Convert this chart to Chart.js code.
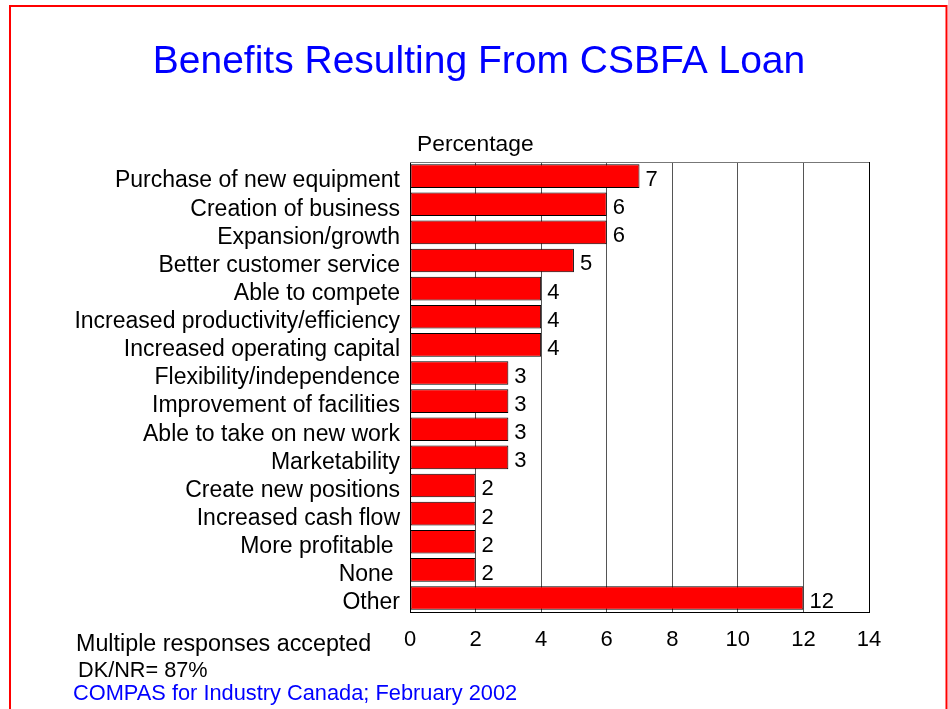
<!DOCTYPE html>
<html>
<head>
<meta charset="utf-8">
<script src="https://cdn.jsdelivr.net/npm/chart.js@4"></script>
<style>
  html, body { margin:0; padding:0; background:#fff; }
  canvas { display:block; }
</style>
</head>
<body>
<canvas id="benefits" width="948" height="709"></canvas>
<script>
/* ── Data ─────────────────────────────────────────────────────────── */
const categories = [
  'Purchase of new equipment', 'Creation of business', 'Expansion/growth',
  'Better customer service', 'Able to compete', 'Increased productivity/efficiency',
  'Increased operating capital', 'Flexibility/independence', 'Improvement of facilities',
  'Able to take on new work', 'Marketability', 'Create new positions',
  'Increased cash flow', 'More profitable ', 'None ', 'Other'
];
const percents  = [7, 6, 6, 5, 4, 4, 4, 3, 3, 3, 3, 2, 2, 2, 2, 12];
const xTicks    = [0, 2, 4, 6, 8, 10, 12, 14];

const titleText = 'Benefits Resulting From CSBFA Loan';
const axisTitle = 'Percentage';
const notes     = ['Multiple responses accepted', 'DK/NR= 87%'];
const source    = 'COMPAS for Industry Canada; February 2002';

const FONT = 'Arial, "Liberation Sans", Helvetica, sans-serif';

/* ── Page decorations: background, frame, title, notes, bar values ── */
const decor = {
  id: 'decor',
  beforeDraw(chart) {
    const { ctx, width, height } = chart;
    ctx.save();
    ctx.fillStyle = '#fff';
    ctx.fillRect(0, 0, width, height);
    ctx.restore();
  },
  afterDatasetsDraw(chart) {
    const { ctx, chartArea: a } = chart;
    ctx.save();
    // top edge of plot box
    ctx.strokeStyle = '#777';
    ctx.lineWidth = 1;
    ctx.beginPath();
    ctx.moveTo(a.left, a.top + 0.5);
    ctx.lineTo(a.right, a.top + 0.5);
    ctx.stroke();

    // value labels next to each bar
    ctx.fillStyle = '#000';
    ctx.font = '22px ' + FONT;
    ctx.textAlign = 'left';
    ctx.textBaseline = 'alphabetic';
    chart.getDatasetMeta(0).data.forEach((bar, i) => {
      ctx.fillText(String(percents[i]), bar.x + 6, bar.y + 10);
    });
    ctx.restore();
  },
  afterDraw(chart) {
    const { ctx, chartArea: a } = chart;
    ctx.save();
    // red page frame
    ctx.strokeStyle = '#FF0000';
    ctx.lineWidth = 2;
    ctx.strokeRect(10, 6, 936.5, 720);

    ctx.fillStyle = '#0000FF';
    ctx.font = '39px ' + FONT;
    ctx.textAlign = 'center';
    ctx.textBaseline = 'alphabetic';
    ctx.fillText(titleText, 479, 73);

    ctx.fillStyle = '#000';
    ctx.textAlign = 'left';
    ctx.font = '22.8px ' + FONT;
    ctx.fillText(axisTitle, a.left + 7, 151);

    ctx.font = '23.3px ' + FONT;
    ctx.fillText(notes[0], 76, 651);
    ctx.font = '21.7px ' + FONT;
    ctx.fillText(notes[1], 78, 677);

    ctx.fillStyle = '#0000FF';
    ctx.font = '21.8px ' + FONT;
    ctx.fillText(source, 73, 700);
    ctx.restore();
  }
};

new Chart(document.getElementById('benefits'), {
  type: 'bar',
  data: {
    labels: categories,
    datasets: [{
      data: percents,
      backgroundColor: '#FF0000',
      borderColor: '#000',
      borderWidth: 1,
      borderSkipped: false,
      barPercentage: 0.84,
      categoryPercentage: 1
    }]
  },
  options: {
    indexAxis: 'y',
    responsive: false,
    animation: false,
    devicePixelRatio: 1,
    layout: { padding: { top: 162, right: 79, left: 0, bottom: 0 } },
    scales: {
      x: {
        min: 0, max: 14,
        afterBuildTicks: s => { s.ticks = xTicks.map(v => ({ value: v })); },
        afterFit: s => { s.height = 97; },
        grid: {
          color: ctx => ctx.tick && ctx.tick.value === 14 ? '#000' : '#555',
          lineWidth: 1,
          drawTicks: false
        },
        border: { color: '#000', width: 1 },
        ticks: { color: '#000', font: { size: 22, family: FONT }, padding: 15, maxRotation: 0 }
      },
      y: {
        afterFit: s => { s.width = 410; },
        grid: { display: false, drawTicks: false },
        border: { color: '#000', width: 1 },
        ticks: { color: '#000', font: { size: 23, family: FONT }, padding: 10, labelOffset: 5, autoSkip: false }
      }
    },
    plugins: {
      legend: { display: false },
      tooltip: { enabled: false }
    }
  },
  plugins: [decor]
});
</script>
</body>
</html>
